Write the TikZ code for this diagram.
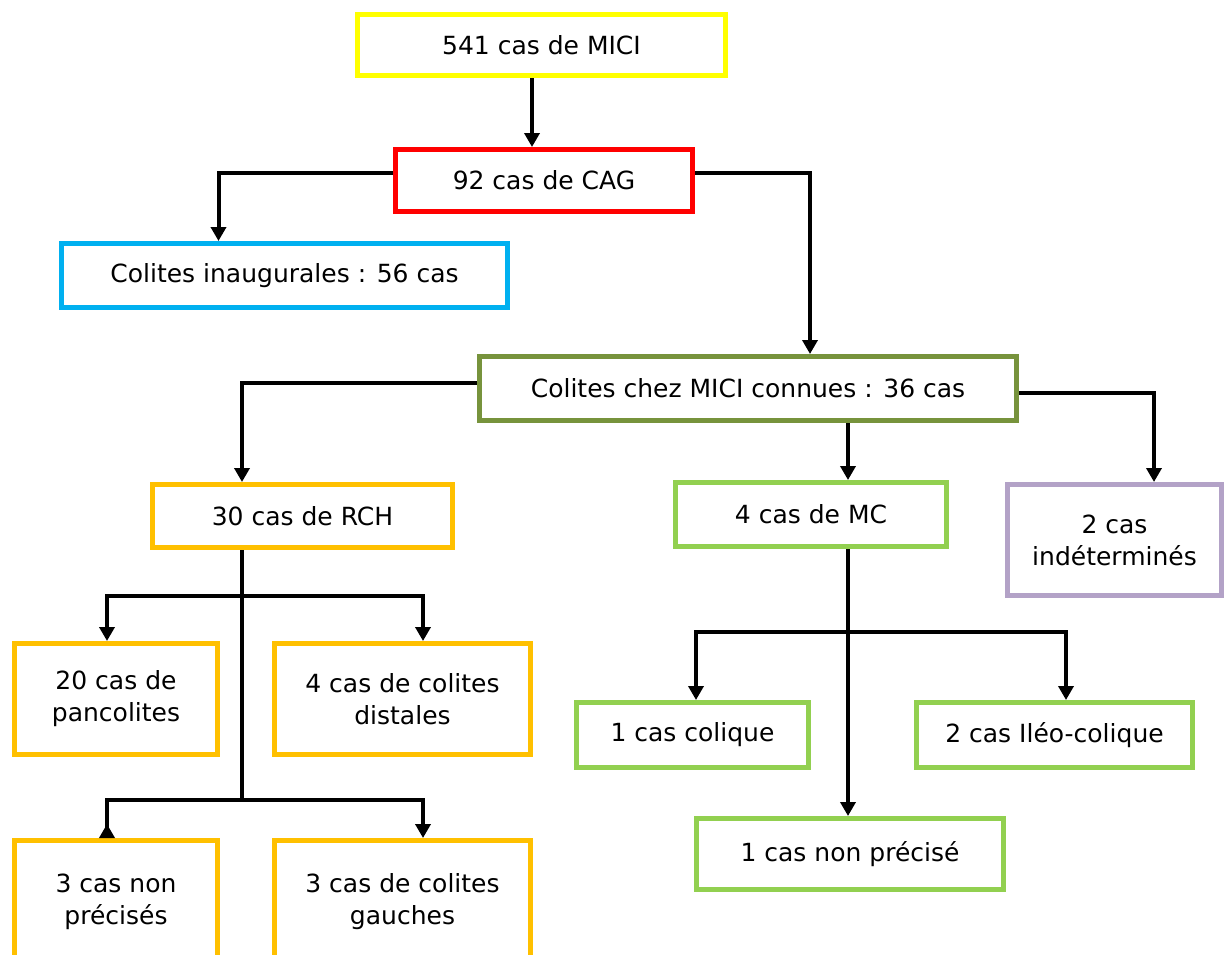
\documentclass[tikz,border=0pt]{standalone}
\usepackage{fontspec}
\setmainfont{DejaVu Sans}
\usetikzlibrary{positioning, arrows.meta}

\definecolor{micijaune}{HTML}{FFFF00}
\definecolor{cagrouge}{HTML}{FF0000}
\definecolor{inaugbleu}{HTML}{00B0F0}
\definecolor{connuevert}{HTML}{77933C}
\definecolor{rchorange}{HTML}{FFC000}
\definecolor{mcvert}{HTML}{92D050}
\definecolor{indetmauve}{HTML}{B3A2C7}

\begin{document}
\begin{tikzpicture}[
  x=1pt, y=-1pt,
  every node/.style={align=center, font=\fontsize{25}{32}\selectfont},
  box/.style={rectangle, draw, line width=5pt, fill=white, inner sep=0pt},
  conn/.style={line width=4pt, -{Triangle[length=14pt, width=15pt]}},
  connrev/.style={line width=4pt, -{Triangle[length=14pt, width=15pt, reversed]}},
  trunk/.style={line width=4pt}
]
\useasboundingbox (0,0) rectangle (1226,954);

% Upper nodes
\node[box, draw=micijaune, minimum width=368pt, minimum height=61pt] (mici) at (541.5,45) {541 cas de MICI};
\node[box, draw=cagrouge, minimum width=297pt, minimum height=62pt] (cag) at (544,180.5) {92 cas de CAG};
\node[box, draw=inaugbleu, minimum width=446pt, minimum height=64pt] (inaug) at (284.5,275.5) {Colites inaugurales : 56 cas};
\node[box, draw=connuevert, minimum width=537pt, minimum height=64pt] (connues) at (748,388.5) {Colites chez MICI connues : 36 cas};

% Middle nodes
\node[box, draw=rchorange, minimum width=300pt, minimum height=63pt] (rch) at (302.5,516) {30 cas de RCH};
\node[box, draw=mcvert, minimum width=271pt, minimum height=64pt] (mc) at (811,514.5) {4 cas de MC};
\node[box, draw=indetmauve, minimum width=214pt, minimum height=111pt] (indet) at (1114.5,540) {2 cas\\indéterminés};

% RCH nodes
\node[box, draw=rchorange, minimum width=203pt, minimum height=111pt] (panco) at (116,699) {20 cas de\\pancolites};
\node[box, draw=rchorange, minimum width=256pt, minimum height=111pt] (distal) at (402.5,699) {4 cas de colites\\distales};
\node[box, draw=rchorange, minimum width=203pt, minimum height=122pt] (nonprec) at (116,901.5) {3 cas non\\précisés};
\node[box, draw=rchorange, minimum width=256pt, minimum height=122pt] (gauche) at (402.5,901.5) {3 cas de colites\\gauches};

% MC nodes
\node[box, draw=mcvert, minimum width=232pt, minimum height=65pt] (colique) at (692.5,735) {1 cas colique};
\node[box, draw=mcvert, minimum width=276pt, minimum height=65pt] (ileo) at (1054.5,735) {2 cas Iléo-colique};
\node[box, draw=mcvert, minimum width=307pt, minimum height=71pt] (mcnonprec) at (850,854) {1 cas non précisé};

% Junctions
\coordinate (jrch1) at (242,596);
\coordinate (jrch2) at (242,800);
\coordinate (jmc) at (848,632);

% Upper arrows
\draw[conn] ([xshift=-9.5pt]mici.south) -- ([xshift=-9.5pt]mici.south |- cag.north);
\draw[conn] ([yshift=8pt]cag.west) -| ([xshift=-66pt]inaug.north);
\draw[conn] ([yshift=8pt]cag.east) -| ([xshift=62pt]connues.north);

% Connues arrows
\draw[conn] ([yshift=5.5pt]connues.west) -| ([xshift=-60.5pt]rch.north);
\draw[conn] ([xshift=100pt]connues.south) -- ([xshift=100pt]connues.south |- mc.north);
\draw[conn] ([yshift=-4.5pt]connues.east) -| ([xshift=39.5pt]indet.north);

% RCH arrows
\draw[trunk] (rch.south -| jrch1) -- (jrch2);
\draw[conn] (jrch1) -| ([xshift=-9pt]panco.north);
\draw[conn] (jrch1) -| ([xshift=20.5pt]distal.north);
\draw[connrev] (jrch2) -| ([xshift=-9pt]nonprec.north);
\draw[conn] (jrch2) -| ([xshift=20.5pt]gauche.north);

% MC arrows
\draw[conn] (mc.south -| jmc) -- (jmc |- mcnonprec.north);
\draw[conn] (jmc) -| ([xshift=3.5pt]colique.north);
\draw[conn] (jmc) -| ([xshift=11.5pt]ileo.north);

\end{tikzpicture}
\end{document}
